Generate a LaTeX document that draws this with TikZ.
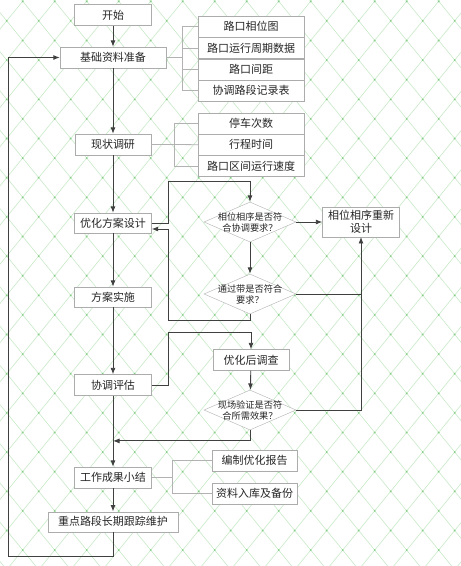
\documentclass[tikz,border=0pt]{standalone}
\usepackage{fontspec}
\setmainfont{Noto Sans CJK SC}
\usetikzlibrary{positioning, arrows.meta, shapes.geometric}
\definecolor{latline}{RGB}{200,234,200}
\definecolor{latdot}{RGB}{130,205,130}

\begin{document}
\begin{tikzpicture}[x=1pt, y=-1pt,
    box/.style={draw=gray!65, fill=white, minimum width=77pt,
                minimum height=21pt, inner sep=0pt, text=black!85,
                font=\fontsize{11}{13}\selectfont},
    sub/.style={box, minimum width=106pt},
    dec/.style={diamond, aspect=2.3, draw=gray!60, fill=white, minimum width=92pt,
                minimum height=40pt, inner sep=-5pt, align=center,
                text=black!85, font=\fontsize{9.2}{11}\selectfont},
    ar/.style={-{Latex[length=6.5pt, width=5pt]}, draw=black!75, line width=0.9pt},
    ln/.style={draw=black!75, line width=0.9pt},
    br/.style={draw=gray!60, line width=0.8pt},
    lat/.style={draw=latline, line width=0.6pt}
  ]
    % background
    \fill[white] (0,0) rectangle (461,566);
    \useasboundingbox (0,0) rectangle (461,566);
    \begin{scope}
      \clip (0,0) rectangle (461,566);
      \foreach \k in {-15,...,14} \draw[lat] ({21.7+32*\k},0) -- ++(462,566);
      \foreach \k in {0,...,29} \draw[lat] ({23.7+32*\k},0) -- ++(-462,566);
      \foreach \j in {0,2,...,28} \foreach \i in {-1,...,14}
        \fill[latdot] ({22.7+32*\i},{1.3+19.6*\j}) circle (1pt);
      \foreach \j in {1,3,...,29} \foreach \i in {0,...,14}
        \fill[latdot] ({6.7+32*\i},{1.3+19.6*\j}) circle (1pt);
    \end{scope}

    % main column
    \node[box] (start) at (113,15) {开始};
    \node[box, minimum width=106pt] (prep) at (113,57.5) {基础资料准备};
    \node[box, minimum width=76pt] (survey) at (113,144.5) {现状调研};
    \node[box, minimum height=20pt] (design) at (113,223) {优化方案设计};
    \node[box, minimum height=20pt] (impl) at (113,297) {方案实施};
    \node[box] (eval) at (113,385) {协调评估};
    \node[box] (sum) at (113,477.5) {工作成果小结};
    \node[box, minimum width=130pt, minimum height=20pt] (maint) at (113,521.7) {重点路段长期跟踪维护};

    % data lists
    \node[sub] (phase) at (251,26.5) {路口相位图};
    \node[sub, below=0pt of phase] (cycle) {路口运行周期数据};
    \node[sub, below=0pt of cycle] (dist) {路口间距};
    \node[sub, below=0pt of dist] (rec) {协调路段记录表};
    \node[sub] (stops) at (251,123.3) {停车次数};
    \node[sub, below=0pt of stops] (ttime) {行程时间};
    \node[sub, below=0pt of ttime] (speed) {路口区间运行速度};
    \node[box, minimum width=85pt] (rep) at (254.7,460.5) {编制优化报告};
    \node[box, minimum width=85pt] (arch) at (254.7,493.7) {资料入库及备份};

    % checks
    \node[dec] (chk1) at (250,222) {相位相序是否符\\合协调要求？};
    \node[dec] (chk2) at (250,294) {通过带是否符合\\要求？};
    \node[box, minimum width=76pt] (post) at (251,360) {优化后调查};
    \node[dec] (chk3) at (250,410) {现场验证是否符\\合所需效果？};
    \node[box, minimum height=29.5pt, align=center] (redo) at (361,222) {相位相序重新\\设计};

    % brackets
    \draw[br] (prep.east) -- ++(16.4,0) coordinate (b1);
    \draw[br] (phase.west) -| (b1) |- (rec.west);
    \draw[br] (b1 |- cycle.west) -- (cycle.west);
    \draw[br] (b1 |- dist.west) -- (dist.west);
    \draw[br] (survey.east) -- ++(23.2,0) coordinate (b2);
    \draw[br] (stops.west) -| (b2) |- (speed.west);
    \draw[br] (b2) -- (ttime.west);
    \draw[br] (sum.east) -- ++(20.8,0) coordinate (b3);
    \draw[br] (rep.west) -| (b3) |- (arch.west);

    % flow
    \draw[ar] (start) -- (prep);
    \draw[ar] (prep) -- (survey);
    \draw[ar] (survey) -- (design);
    \draw[ar] (design) -- (impl);
    \draw[ar] (impl) -- (eval);
    \draw[ar] (eval) -- (sum);
    \draw[ar] (sum) -- (maint);
    \draw[ar] (design.east) -- ++(17,0) |- ([yshift=20.3pt]chk1.north) -- (chk1.north);
    \draw[ar] (chk1) -- (chk2);
    \draw[ar] (chk1) -- (redo);
    \draw[ar] (chk2.south) -- ++(0,6.7) -| ([xshift=17pt, yshift=-6pt]design.east)
      -- ([yshift=-6pt]design.east);
    \draw[ln] (chk2.east) -- (chk2.east -| redo.south);
    \draw[ar] (chk3.east) -| (redo.south);
    \draw[ar] (eval.east) -- ++(17,0) |- ([yshift=16.6pt]post.north) -- (post.north);
    \draw[ar] (post) -- (chk3);
    \draw[ar] (chk3.south) -- ++(0,10.7) coordinate (j) -- (j -| sum.north);
    \draw[ar] (maint.south) -- ++(0,24.3) -| ([xshift=-51pt]prep.west) -- (prep.west);
  \end{tikzpicture}
\end{document}
